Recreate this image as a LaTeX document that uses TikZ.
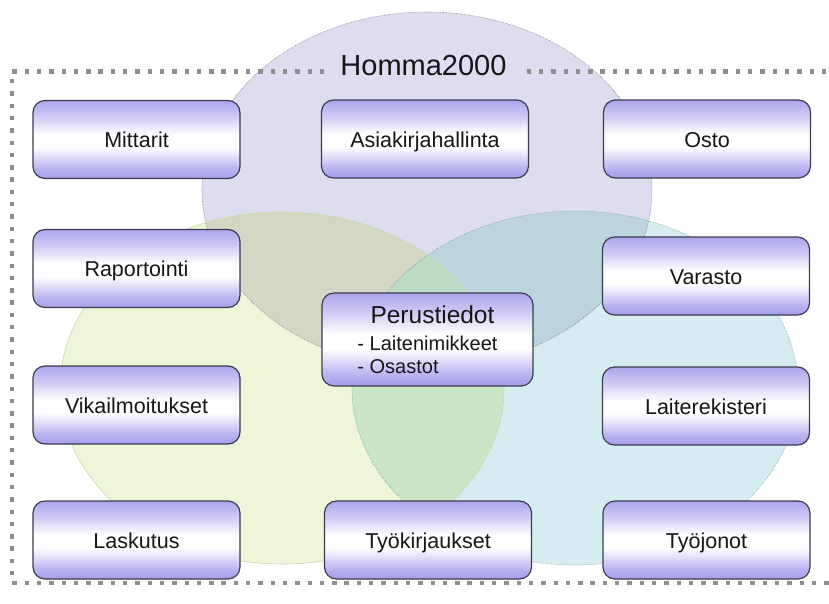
\documentclass[tikz,border=0pt]{standalone}
\usepackage{fontspec}
\setmainfont{Liberation Sans}
\definecolor{cTop}{HTML}{DDDDEF}
\definecolor{cGreen}{HTML}{EEF5D8}
\definecolor{cCyan}{HTML}{D5EDF1}
\definecolor{cTG}{HTML}{D3D7C4}
\definecolor{cTC}{HTML}{BBD4DE}
\definecolor{cGC}{HTML}{CBE6C7}
\definecolor{cTGC}{HTML}{BCDAC4}
\definecolor{lnTop}{HTML}{7C7C90}
\definecolor{lnGreen}{HTML}{C6DAA6}
\definecolor{lnCyan}{HTML}{7F9FA8}
\definecolor{frameGray}{HTML}{8E8E8E}
\definecolor{boxline}{HTML}{3C3C4E}
\definecolor{txt}{HTML}{161616}
\definecolor{bxA}{HTML}{A59CE9}
\definecolor{bxB}{HTML}{B9B2F0}
\definecolor{bxC}{HTML}{D2CDF5}
\definecolor{bxD}{HTML}{ACA4EC}
\pgfdeclareverticalshading{boxshade}{100bp}{color(0bp)=(bxA); color(25bp)=(bxA); color(31bp)=(bxB); color(45bp)=(white); color(53bp)=(white); color(64bp)=(bxC); color(75bp)=(bxD); color(100bp)=(bxD)}
\begin{document}
\begin{tikzpicture}[x=1pt,y=-1pt,
  boxbase/.style={draw=boxline, line width=1.2pt, rounded corners=12pt,
    shading=boxshade, minimum width=207pt, minimum height=78pt, inner sep=0pt, text=txt},
  box/.style={boxbase, font=\fontsize{21.5}{25}\selectfont, text height=16pt, text depth=0pt},
  frame/.style={draw=frameGray, line width=4.4pt, dash pattern=on 4.4pt off 7.9pt},
  ellline/.style={line width=0.6pt, densely dotted}]
\useasboundingbox (0,0) rectangle (829,603);
% ellipses
\fill[cTop] (427,190) ellipse [x radius=225pt, y radius=178pt];
\fill[cGreen] (282,388) ellipse [x radius=222pt, y radius=176pt];
\fill[cCyan] (575,388) ellipse [x radius=223pt, y radius=177pt];
\begin{scope}
  \clip (282,388) ellipse [x radius=222pt, y radius=176pt];
  \fill[cTG] (427,190) ellipse [x radius=225pt, y radius=178pt];
\end{scope}
\begin{scope}
  \clip (575,388) ellipse [x radius=223pt, y radius=177pt];
  \fill[cTC] (427,190) ellipse [x radius=225pt, y radius=178pt];
  \fill[cGC] (282,388) ellipse [x radius=222pt, y radius=176pt];
  \clip (282,388) ellipse [x radius=222pt, y radius=176pt];
  \fill[cTGC] (427,190) ellipse [x radius=225pt, y radius=178pt];
\end{scope}
\draw[lnGreen, line width=0.6pt] (282,388) ellipse [x radius=222pt, y radius=176pt];
\draw[lnCyan, ellline] (575,388) ellipse [x radius=223pt, y radius=177pt];
\draw[lnTop, ellline] (427,190) ellipse [x radius=225pt, y radius=178pt];
% title and frame
\node (title) at (423.5,75) [anchor=base, font=\fontsize{29}{34}\selectfont, text=txt, inner xsep=16pt, inner ysep=0pt] {Homma2000};
\coordinate (frTL) at (12,71.5);
\coordinate (frBL) at (12,583);
\coordinate (frBR) at (840,583);
\coordinate (frTR) at (840,71.5);
\draw[frame] (title.west |- frTL) -- (frTL) -- (frBL) -- (frBR) -- (frTR) -- (title.east |- frTR);
% boxes
\node[box] (mittarit) at (136.5,139.5) {Mittarit};
\node[box] (asiakirja) at (425,139) {Asiakirjahallinta};
\node[box] (osto) at (707,139) {Osto};
\node[box] (raportointi) at (136.5,268.5) {Raportointi};
\node[box] (varasto) at (706,276) {Varasto};
\node[box] (vika) at (136.5,405) {Vikailmoitukset};
\node[box] (laiterek) at (706,406) {Laiterekisteri};
\node[box] (laskutus) at (136.5,540) {Laskutus};
\node[box] (tyokirj) at (428,540) {Työkirjaukset};
\node[box] (tyojonot) at (706.5,540) {Työjonot};
\node[boxbase, minimum width=211pt, minimum height=93pt, align=left, font=\fontsize{20}{23}\selectfont] (perus) at (427.5,339.5)
  {\makebox[140pt][c]{\hspace{10pt}\fontsize{24.5}{28}\selectfont Perustiedot}\\[4pt]- Laitenimikkeet\\- Osastot};
\end{tikzpicture}
\end{document}
